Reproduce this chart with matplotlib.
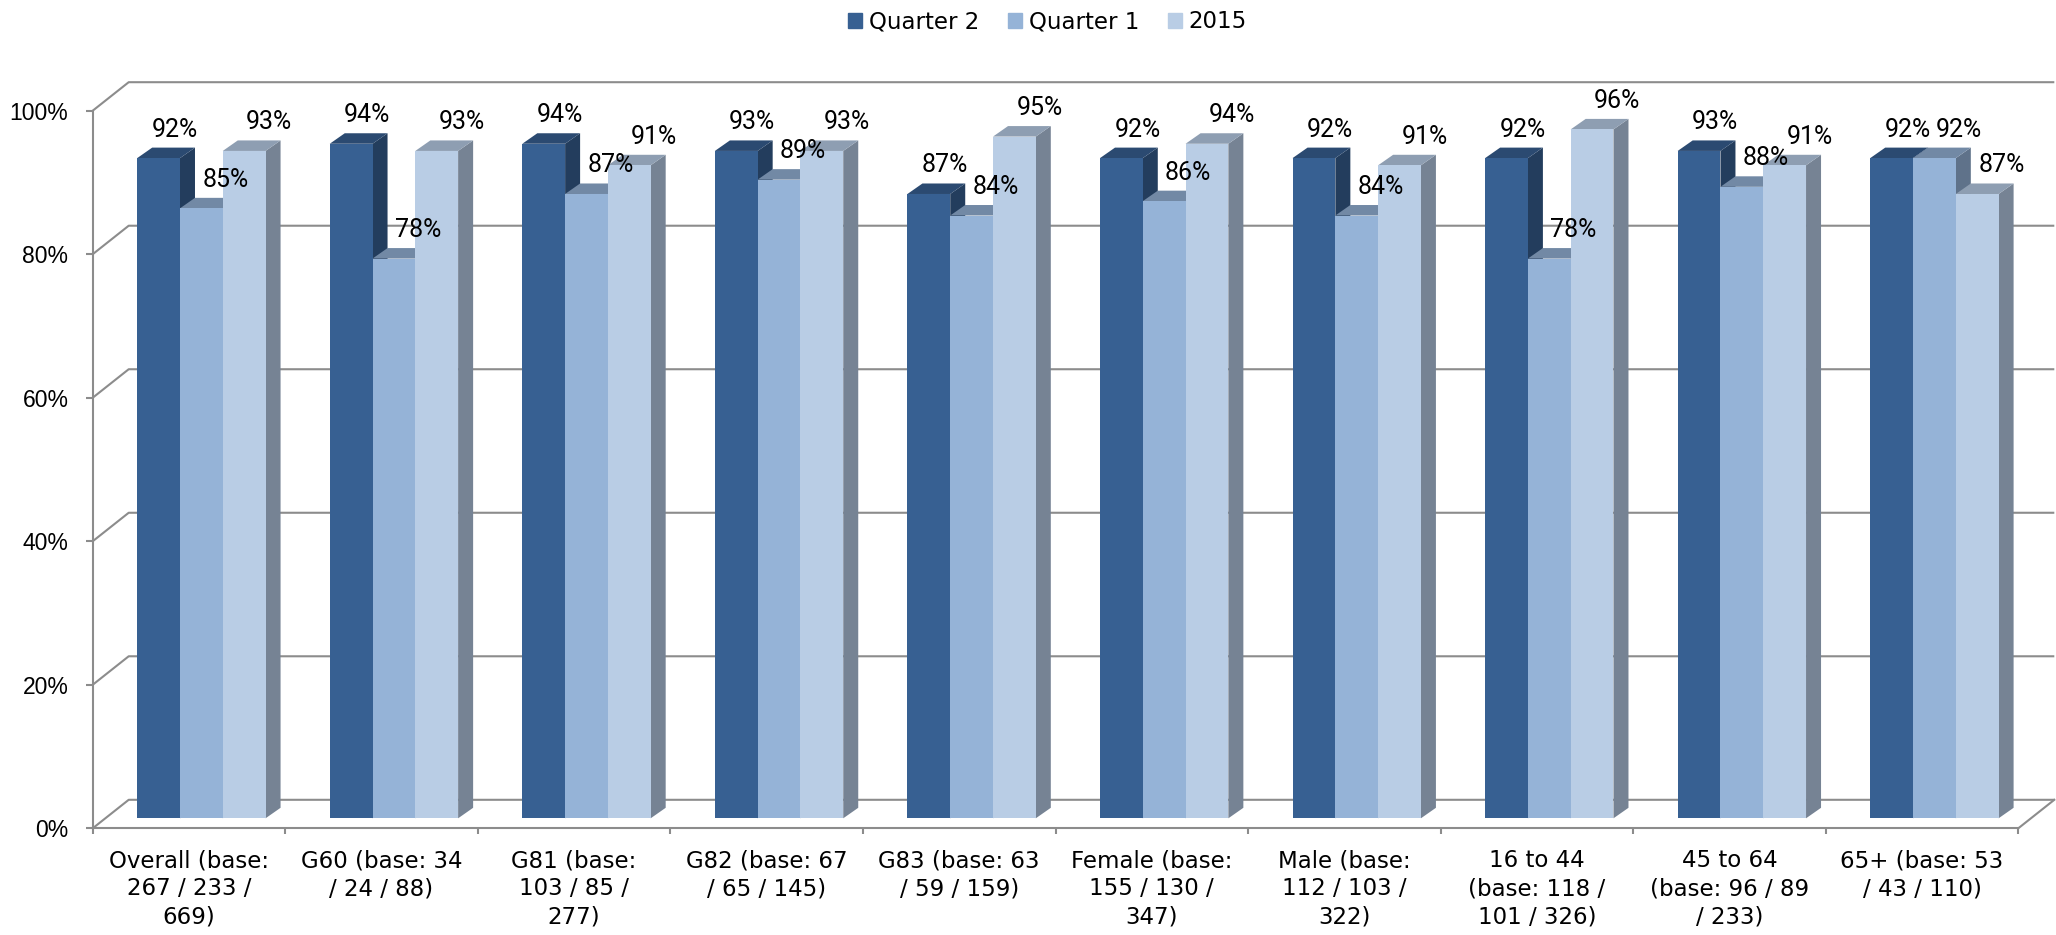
import matplotlib
matplotlib.use("Agg")
import matplotlib.pyplot as plt
from matplotlib.patches import Patch

categories = [
    "Overall (base:\n267 / 233 /\n669)",
    "G60 (base: 34\n/ 24 / 88)",
    "G81 (base:\n103 / 85 /\n277)",
    "G82 (base: 67\n/ 65 / 145)",
    "G83 (base: 63\n/ 59 / 159)",
    "Female (base:\n155 / 130 /\n347)",
    "Male (base:\n112 / 103 /\n322)",
    "16 to 44\n(base: 118 /\n101 / 326)",
    "45 to 64\n(base: 96 / 89\n/ 233)",
    "65+ (base: 53\n/ 43 / 110)",
]
series = ["Quarter 2", "Quarter 1", "2015"]
quarter2 = [92, 94, 94, 93, 87, 92, 92, 92, 93, 92]
quarter1 = [85, 78, 87, 89, 84, 86, 84, 78, 88, 92]
year2015 = [93, 93, 91, 93, 95, 94, 91, 96, 91, 87]
yticks = [0, 20, 40, 60, 80, 100]

# front, top, side shades per series
front = ["#376092", "#95B3D7", "#B9CDE5"]
top = ["#2B4A71", "#7289A5", "#8E9EB2"]
side = ["#233D5D", "#5F728A", "#768394"]
grid_c = "#8C8C8C"

W, H = 2056, 935
fig = plt.figure(figsize=(W / 100, H / 100), dpi=100)
ax_l, ax_r, ax_t, ax_b = 92.7, 2018.3, 110.7, 828.3
ax = fig.add_axes([ax_l / W, (H - ax_b) / H, (ax_r - ax_l) / W, (ax_b - ax_t) / H])
ax.set_xlim(0, 10)
ax.set_ylim(0, 100)
px_x = (ax_r - ax_l) / 10
px_y = (ax_b - ax_t) / 100

# 3d offsets in data units
DX, DY = 36 / px_x, 28.5 / px_y          # back wall
x0, y0 = 12.4 / px_x, 10 / px_y          # bars sit behind front plane
bdx, bdy = 15 / px_x, 10.5 / px_y        # bar depth
bw = 0.2222

# walls and gridlines
for v in yticks:
    ax.plot([0, DX, 10 + DX], [v, v + DY, v + DY], color=grid_c, lw=1.5,
            clip_on=False, zorder=1, solid_capstyle="butt")
ax.plot([10, 10 + DX], [0, DY], color=grid_c, lw=1.5, clip_on=False, zorder=1)

vals = [quarter2, quarter1, year2015]
lab_off = [16, 24, 25]
for j in range(3):
    xs = [i + 0.5 - 1.5 * bw + j * bw + x0 for i in range(10)]
    for xl, v in zip(xs, vals[j]):
        xr = xl + bw
        yt = y0 + v
        ax.fill([xr, xr + bdx, xr + bdx, xr], [y0, y0 + bdy, yt + bdy, yt],
                color=side[j], lw=0, zorder=2 + j * 0.1, clip_on=False)
        ax.fill([xl, xl + bdx, xr + bdx, xr], [yt, yt + bdy, yt + bdy, yt],
                color=top[j], lw=0, zorder=2 + j * 0.1, clip_on=False)
        ax.text(xl + bw / 2 + lab_off[j] / px_x, yt + bdy + 11 / px_y, f"{v}%",
                ha="center", va="baseline", fontsize=18, zorder=5,
                family=["Roboto", "DejaVu Sans"])
    ax.bar(xs, vals[j], width=bw, bottom=y0, align="edge", color=front[j],
           lw=0, zorder=2.05 + j * 0.1, clip_on=False)

for s in ["top", "right"]:
    ax.spines[s].set_visible(False)
for s in ["left", "bottom"]:
    ax.spines[s].set_color(grid_c)
    ax.spines[s].set_linewidth(1.5)
    ax.spines[s].set_zorder(1.5)

ax.set_yticks(yticks)
ax.set_yticklabels([f"{v}%" for v in yticks], family="Liberation Sans", fontsize=16.5)
ax.tick_params(axis="y", length=4.8, width=1.5, color=grid_c, pad=12.7)
ax.set_xticks(range(11))
ax.set_xticklabels([])
ax.tick_params(axis="x", which="major", length=4, width=1.5, color=grid_c)
ax.set_xticks([i + 0.5 for i in range(10)], minor=True)
ax.set_xticklabels(categories, minor=True, fontsize=16.5, family="DejaVu Sans",
                   linespacing=1.28)
ax.tick_params(axis="x", which="minor", length=0, pad=15)
ax.patch.set_visible(False)

handles = [Patch(color=c) for c in front]
fig.legend(handles, series, loc="center", bbox_to_anchor=(0.5095, 0.9765), ncol=3,
           frameon=False, fontsize=16.5, handlelength=0.6, handleheight=0.6,
           handletextpad=0.3, columnspacing=1.27, borderpad=0)

fig.savefig("out.png", dpi=100)
